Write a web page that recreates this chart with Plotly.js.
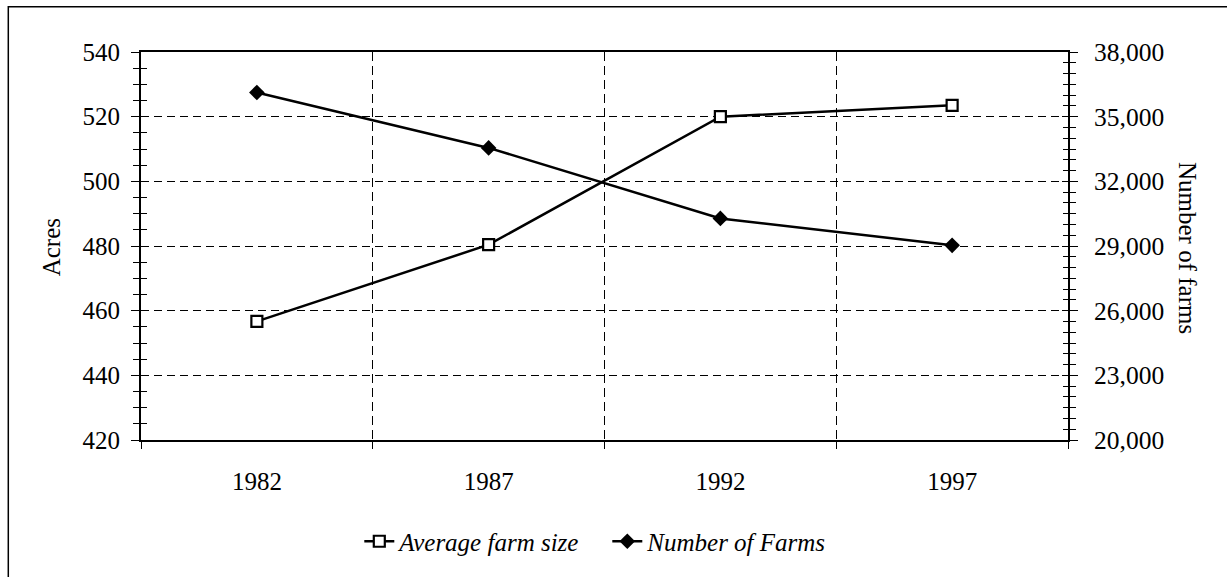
<!DOCTYPE html>
<html>
<head>
<meta charset="utf-8">
<script src="https://cdn.plot.ly/plotly-3.0.1.min.js"></script>
<style>
html, body { margin: 0; padding: 0; background: #fff; }
#chart { width: 1227px; height: 577px; }
</style>
</head>
<body>
<div id="chart"></div>
<script>
// Data
const years = ['1982', '1987', '1992', '1997'];
const avgFarmSize = [456.7, 480.4, 520.0, 523.5];
const numberOfFarms = [36120, 33550, 30280, 29030];
const leftTicks = [420, 440, 460, 480, 500, 520, 540];
const rightTicks = [20000, 23000, 26000, 29000, 32000, 35000, 38000];
const rightTickText = ['20,000', '23,000', '26,000', '29,000', '32,000', '35,000', '38,000'];

const FONT = '"Liberation Serif", "Times New Roman", serif';
const FS = 25;

const traces = [
  {
    x: years, y: avgFarmSize, name: 'Average farm size', type: 'scatter', mode: 'lines+markers',
    yaxis: 'y',
    line: { color: '#000', width: 2.5 },
    marker: { symbol: 'square', size: 11, color: '#fff', line: { color: '#000', width: 2.2 } }
  },
  {
    x: years, y: numberOfFarms, name: 'Number of Farms', type: 'scatter', mode: 'lines+markers',
    yaxis: 'y2',
    line: { color: '#000', width: 2.5 },
    marker: { symbol: 'diamond', size: 12, color: '#000', line: { color: '#000', width: 0 } }
  }
];

const L = 140.7, R = 1067.7, T = 51.7, B = 444.3;
const W = 1227, H = 577;
const pw = R - L, ph = B - T;
const px = v => (v - L) / pw;
const py = v => (B - v) / ph;

const layout = {
  width: W, height: H,
  margin: { l: L, r: W - R, t: T, b: H - B, pad: 0 },
  paper_bgcolor: '#fff', plot_bgcolor: '#fff',
  font: { family: FONT, size: FS, color: '#000' },
  showlegend: true,
  legend: {
    orientation: 'h', x: px(607), xanchor: 'center', y: py(547), yanchor: 'middle',
    font: { family: FONT, size: FS, color: '#000', style: 'italic' },
    itemwidth: 30, entrywidth: 203, entrywidthmode: 'pixels',
    tracegroupgap: 0, bgcolor: 'rgba(0,0,0,0)'
  },
  xaxis: {
    type: 'category', range: [-0.5, 3.5],
    tickson: 'boundaries', ticks: 'outside', ticklen: 7, tickwidth: 1, tickcolor: '#000',
    showline: true, linecolor: '#000', linewidth: 2, mirror: true,
    showgrid: true, gridcolor: '#000', gridwidth: 1, griddash: '9px,5px',
    ticklabelstandoff: 18,
    tickfont: { family: FONT, size: FS, color: '#000' },
    zeroline: false, fixedrange: true
  },
  yaxis: {
    range: [420, 540], tickvals: leftTicks, ticktext: leftTicks.map(String),
    ticks: 'outside', ticklen: 8, tickwidth: 1, tickcolor: '#000',
    minor: { dtick: 5, tick0: 420, ticks: 'outside', ticklen: 6, tickwidth: 1, tickcolor: '#000', showgrid: false },
    showline: true, linecolor: '#000', linewidth: 2,
    showgrid: true, gridcolor: '#000', gridwidth: 1, griddash: '8px,5px',
    ticklabelstandoff: 6,
    tickfont: { family: FONT, size: FS, color: '#000' },
    zeroline: false, fixedrange: true
  },
  yaxis2: {
    overlaying: 'y', side: 'right',
    range: [20000, 38000], tickvals: rightTicks, ticktext: rightTickText,
    ticks: 'outside', ticklen: 8, tickwidth: 1, tickcolor: '#000',
    minor: { dtick: 500, tick0: 20000, ticks: 'outside', ticklen: 6, tickwidth: 1, tickcolor: '#000', showgrid: false },
    showline: true, linecolor: '#000', linewidth: 2,
    showgrid: false,
    ticklabelstandoff: 11,
    tickfont: { family: FONT, size: 25.5, color: '#000' },
    zeroline: false, fixedrange: true
  },
  yaxis3: {
    overlaying: 'y', side: 'left', range: [420, 540], tickvals: leftTicks,
    ticks: 'inside', ticklen: 6, tickwidth: 1, tickcolor: '#000', showticklabels: false,
    minor: { dtick: 5, tick0: 420, ticks: 'inside', ticklen: 6, tickwidth: 1, tickcolor: '#000', showgrid: false },
    showline: false, showgrid: false, zeroline: false, fixedrange: true
  },
  yaxis4: {
    overlaying: 'y', side: 'right', range: [20000, 38000], tickvals: rightTicks,
    ticks: 'inside', ticklen: 6, tickwidth: 1, tickcolor: '#000', showticklabels: false,
    minor: { dtick: 500, tick0: 20000, ticks: 'inside', ticklen: 5, tickwidth: 1, tickcolor: '#000', showgrid: false },
    showline: false, showgrid: false, zeroline: false, fixedrange: true
  },
  annotations: [
    { text: 'Acres', xref: 'paper', yref: 'paper', x: px(52), y: py(249), xanchor: 'center', yanchor: 'middle',
      textangle: -90, showarrow: false, font: { family: FONT, size: FS, color: '#000' } },
    { text: 'Number of farms', xref: 'paper', yref: 'paper', x: px(1186.7), y: py(250), xanchor: 'center', yanchor: 'middle',
      textangle: 90, showarrow: false, font: { family: FONT, size: FS, color: '#000' } }
  ],
  shapes: [
    { type: 'rect', xref: 'paper', yref: 'paper', x0: px(8), x1: px(1240), y0: py(590), y1: py(6),
      line: { color: '#000', width: 1.5 }, fillcolor: 'rgba(0,0,0,0)', layer: 'below' }
  ]
};

// dummy traces to activate overlay axes
traces.push({ x: [years[0]], y: [null], yaxis: 'y3', showlegend: false, hoverinfo: 'skip', mode: 'markers' });
traces.push({ x: [years[0]], y: [null], yaxis: 'y4', showlegend: false, hoverinfo: 'skip', mode: 'markers' });

Plotly.newPlot('chart', traces, layout, { displayModeBar: false, staticPlot: true });
</script>
</body>
</html>
